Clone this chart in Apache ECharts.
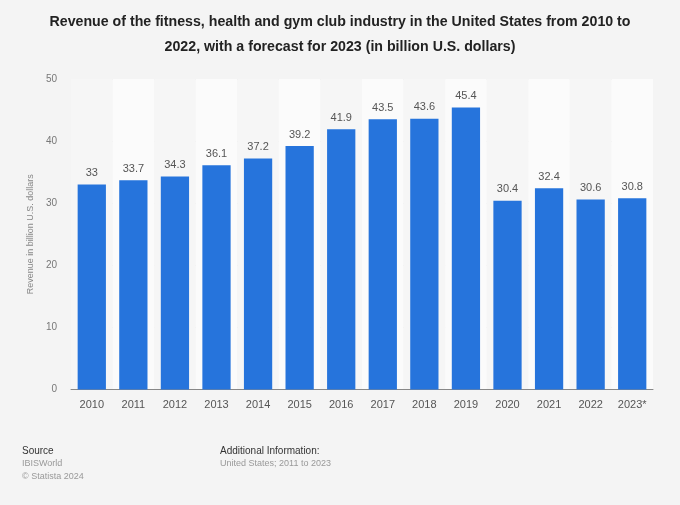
<!DOCTYPE html>
<html>
<head>
<meta charset="utf-8">
<script src="https://cdn.jsdelivr.net/npm/echarts@6/dist/echarts.min.js"></script>
<style>
html,body{margin:0;padding:0;background:#f4f4f4;}
#c{width:680px;height:505px;}
</style>
</head>
<body>
<div id="c"></div>
<script>
var categories = ['2010','2011','2012','2013','2014','2015','2016','2017','2018','2019','2020','2021','2022','2023*'];
var revenue = [33, 33.7, 34.3, 36.1, 37.2, 39.2, 41.9, 43.5, 43.6, 45.4, 30.4, 32.4, 30.6, 30.8];
var yTicks = {min: 0, max: 50, interval: 10};

var chart = echarts.init(document.getElementById('c'));
var font = '"Liberation Sans", Arial, Helvetica, sans-serif';
chart.setOption({
  backgroundColor: '#f4f4f4',
  textStyle: {fontFamily: font},
  title: {
    text: 'Revenue of the fitness, health and gym club industry in the United States from 2010 to\n2022, with a forecast for 2023 (in billion U.S. dollars)',
    left: 'center',
    top: 5,
    textStyle: {fontSize: 14.2, fontWeight: 'bold', color: '#222', lineHeight: 25, fontFamily: font, align: 'center'}
  },
  graphic: [
    {type: 'text', left: 22, top: 446, style: {text: 'Source', fontSize: 10, fill: '#333', fontFamily: font}},
    {type: 'text', left: 22, top: 459, style: {text: 'IBISWorld', fontSize: 9, fill: '#999', fontFamily: font}},
    {type: 'text', left: 22, top: 472, style: {text: '© Statista 2024', fontSize: 9, fill: '#999', fontFamily: font}},
    {type: 'text', left: 220, top: 446, style: {text: 'Additional Information:', fontSize: 10, fill: '#333', fontFamily: font}},
    {type: 'text', left: 220, top: 459, style: {text: 'United States; 2011 to 2023', fontSize: 9, fill: '#999', fontFamily: font}}
  ],
  grid: {left: 71, right: 27, top: 79, bottom: 115.5, containLabel: false},
  xAxis: {
    type: 'category',
    data: categories,
    axisLine: {lineStyle: {color: '#888', width: 1}},
    axisTick: {show: false},
    axisLabel: {color: '#555', fontSize: 11, margin: 10},
    splitArea: {show: true, areaStyle: {color: ['#f6f6f6', '#fbfbfb']}}
  },
  yAxis: {
    type: 'value',
    min: yTicks.min, max: yTicks.max, interval: yTicks.interval,
    name: 'Revenue in billion U.S. dollars',
    nameLocation: 'middle',
    nameGap: 36,
    nameTextStyle: {color: '#888', fontSize: 9},
    axisLine: {show: false},
    axisTick: {show: false},
    axisLabel: {color: '#777', fontSize: 10, margin: 14},
    splitLine: {lineStyle: {color: '#e3e3e3', width: 1}}
  },
  series: [{
    type: 'bar',
    data: revenue,
    barWidth: '68%',
    itemStyle: {color: '#2674dc'},
    label: {show: true, position: 'top', color: '#555', fontSize: 11, distance: 6},
    animation: false
  }],
  animation: false
});
</script>
</body>
</html>
